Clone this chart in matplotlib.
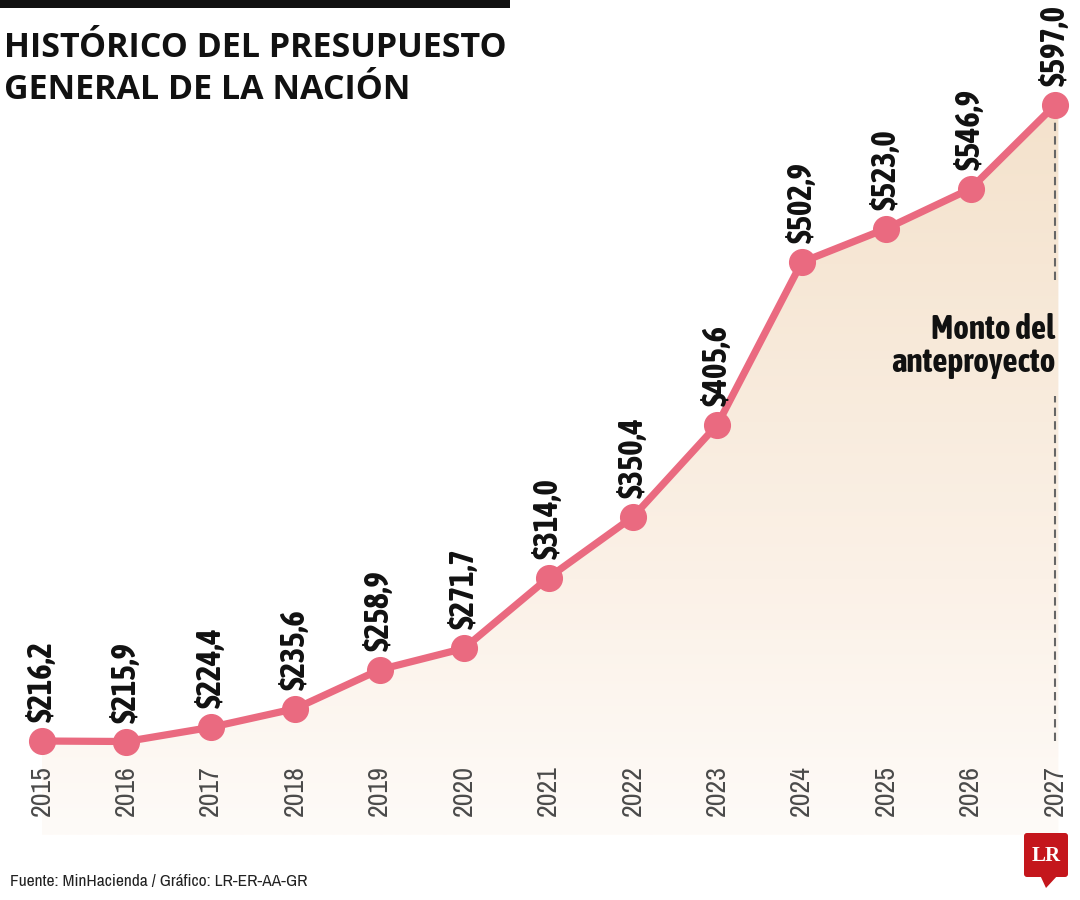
import matplotlib.pyplot as plt
import numpy as np
from matplotlib import font_manager
from matplotlib.font_manager import FontProperties
from matplotlib.colors import LinearSegmentedColormap
from matplotlib.patches import Polygon, FancyBboxPatch

# datos (billones de pesos)
years = [2015, 2016, 2017, 2018, 2019, 2020, 2021, 2022, 2023, 2024, 2025, 2026, 2027]
values = [216.2, 215.9, 224.4, 235.6, 258.9, 271.7, 314.0, 350.4, 405.6, 502.9, 523.0, 546.9, 597.0]
labels = ["$" + f"{v:.1f}".replace(".", ",") for v in values]

title_lines = ["HISTÓRICO DEL PRESUPUESTO", "GENERAL DE LA NACIÓN"]
note = "Monto del\nanteproyecto"
source = "Fuente: MinHacienda / Gráfico: LR-ER-AA-GR"

pink = "#EA6A80"


def wnum(w):
    return w if isinstance(w, (int, float)) else font_manager.weight_dict.get(w, 400)


# look for condensed / narrow faces among the installed fonts
cands = [f for f in font_manager.fontManager.ttflist
         if ("Narrow" in f.name or "Condensed" in f.name) and f.style == "normal"]
reg = sorted(cands, key=lambda f: abs(wnum(f.weight) - 400))
bld = sorted([f for f in cands if wnum(f.weight) >= 600], key=lambda f: abs(wnum(f.weight) - 700))


def nprops(size, bold=False):
    pool = bld if bold else reg
    if pool:
        return FontProperties(fname=pool[0].fname, size=size)
    return FontProperties(family="DejaVu Sans", stretch="condensed",
                          weight="bold" if bold else "normal", size=size)


fig = plt.figure(figsize=(10.8, 9), dpi=100)
ax = fig.add_axes([0, 0, 1, 1])
ax.set_xlim(2014.5025, 2027.296)
ax.set_ylim(121.0, 659.9)
ax.axis("off")

# gradient fill under the line
y_bottom = 160.0
x_right = 2027.04
cmap = LinearSegmentedColormap.from_list(
    "fill", [(0.0, "#FEFBF8"), (0.35, "#FBF1E7"), (1.0, "#F4E2CC")])
grad = np.linspace(0, 1, 256).reshape(-1, 1)
img = ax.imshow(grad, extent=[years[0], x_right, y_bottom, max(values)],
                origin="lower", cmap=cmap, aspect="auto", zorder=1)
poly_pts = list(zip(years, values)) + [(x_right, values[-1]), (x_right, y_bottom), (years[0], y_bottom)]
clip = Polygon(poly_pts, closed=True, transform=ax.transData, facecolor="none", edgecolor="none")
ax.add_patch(clip)
img.set_clip_path(clip)

# dashed guide for the last year
ax.vlines(years[-1], 492, values[-1] - 9, colors="#666666", linestyles=(0, (4, 2.5)), lw=1.5, zorder=2)
ax.vlines(years[-1], values[0], 423, colors="#666666", linestyles=(0, (4, 2.5)), lw=1.5, zorder=2)

ax.plot(years, values, color=pink, lw=5.2, marker="o", ms=18.5, zorder=3)

for x, v, lab in zip(years, values, labels):
    ax.annotate(lab, (x, v), xytext=(0, 19), textcoords="offset pixels",
                rotation=90, ha="center", va="bottom", fontproperties=nprops(23.5, True),
                color="#111111", zorder=4)
    ax.annotate(str(x), (x, values[0]), xytext=(0, -24), textcoords="offset pixels",
                rotation=90, ha="center", va="top", fontproperties=nprops(20),
                color="#4a4a4a", zorder=4)

ax.text(2027.0, 453, note, ha="right", va="center", fontproperties=nprops(24, True),
        color="#111111", linespacing=1.0, zorder=4)

# overlay in pixel coordinates for title, footer and logo
ov = fig.add_axes([0, 0, 1, 1])
ov.set_xlim(0, 1080)
ov.set_ylim(900, 0)
ov.axis("off")
ov.patch.set_alpha(0)

ov.fill_between([0, 510], 0, 8, color="#111111", lw=0)
ov.text(4, 57, title_lines[0], fontsize=24.5, fontweight="bold", family="Open Sans",
        color="#111111", va="baseline", ha="left")
ov.text(4, 99, title_lines[1], fontsize=24.5, fontweight="bold", family="Open Sans",
        color="#111111", va="baseline", ha="left")

ov.text(10, 886, source, fontproperties=nprops(12.5),
        color="#222222", va="baseline", ha="left")

logo = FancyBboxPatch((1024, 833), 44, 44, boxstyle="round,pad=0,rounding_size=3",
                      facecolor="#C4161C", edgecolor="none")
ov.add_patch(logo)
ov.add_patch(Polygon([(1040, 875), (1058, 875), (1046, 888)], closed=True,
                     facecolor="#C4161C", edgecolor="none"))
ov.text(1046, 856, "LR", fontsize=15, fontweight="bold", family="Liberation Serif",
        color="white", ha="center", va="center")

fig.savefig("out.png", dpi=100, facecolor="white")
